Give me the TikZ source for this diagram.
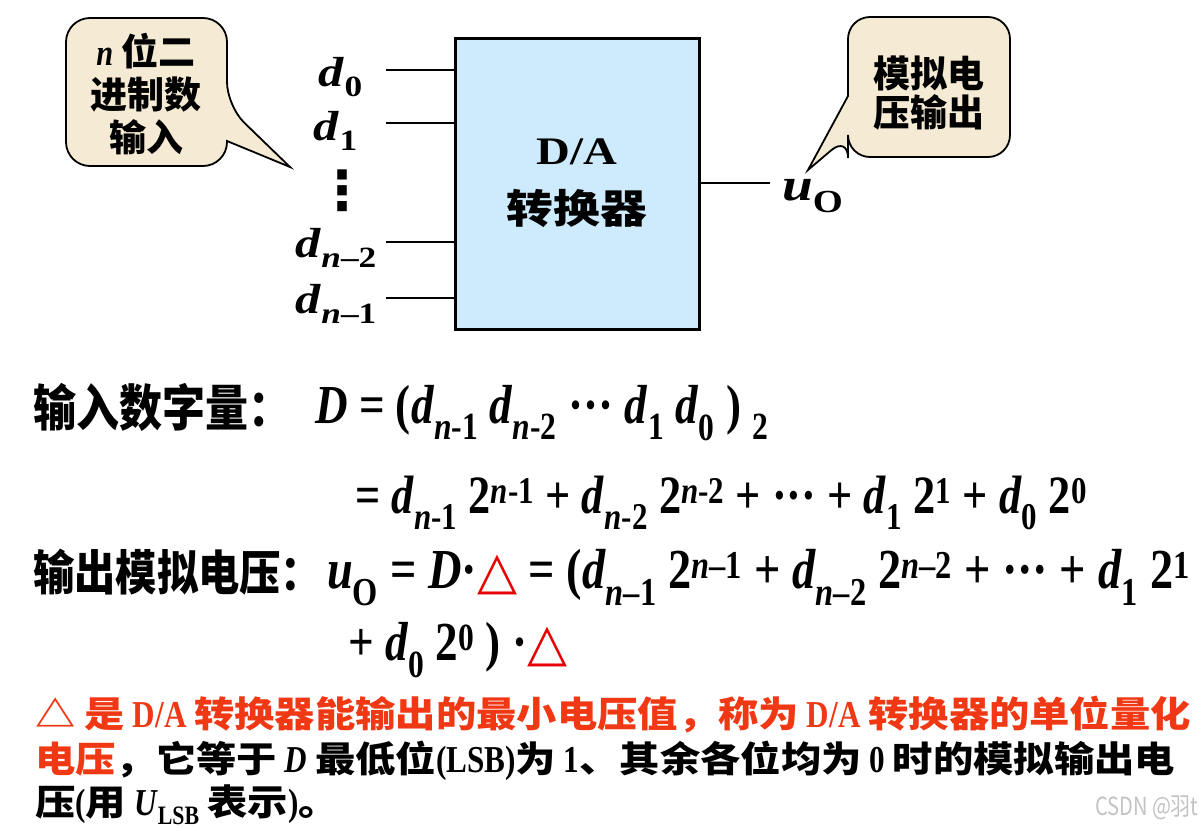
\documentclass[tikz,border=0pt]{standalone}
\usepackage{fontspec}
\setmainfont{Liberation Serif}[FakeStretch=0.82]
\newfontfamily\rmwide{Liberation Serif}[FakeStretch=1.2]
\newfontfamily\zhfont{Noto Sans CJK SC}[FakeStretch=0.86]
\newfontfamily\zhlow{Noto Sans CJK SC}[FakeStretch=1.12]
\newfontfamily\zhwide{Noto Sans CJK SC}[FakeStretch=1.17]
\newfontfamily\zhbub{Noto Sans CJK SC}
\newfontfamily\symfont{DejaVu Sans}
\newfontfamily\wmfont{Noto Sans CJK SC}[FakeStretch=0.8]

\definecolor{boxblue}{RGB}{205,235,252}
\definecolor{bubblefill}{RGB}{245,235,212}
\definecolor{textred}{RGB}{240,56,20}
\definecolor{trired}{RGB}{230,0,0}
\definecolor{wmgray}{RGB}{195,195,195}

\newcommand\fs[1]{\fontsize{#1}{#1}\selectfont}
\newcommand\ivar[1]{\textit{#1}}
\newcommand\lsub[1]{\textsubscript{#1}}
\newcommand\lsup[1]{\textsuperscript{#1}}
\newcommand\redtri{{\symfont\fs{52}\color{trired}△}}
\newcommand\zl[1]{{\zhlow\fs{36}#1}}

\begin{document}
\begin{tikzpicture}[x=1pt,y=-1pt,
    every node/.style={inner sep=0pt},
    txt/.style={anchor=base west},
    lab/.style={anchor=base east, font=\bfseries\rmwide\fs{42}},
    bubble/.style={draw, line width=1.8pt, fill=bubblefill},
    wire/.style={line width=2.4pt}]
    \useasboundingbox (0,0) rectangle (1201,830);

    % speech bubbles
    \draw[bubble] (66,100) [rounded corners=24] -- (66,18) -- (227,18) -- (227,106)
        [sharp corners] -- (290,167) -- (227,141) [rounded corners=24] -- (227,166) -- (66,166) -- cycle;
    \draw[bubble] (1010,90) [rounded corners=22] -- (1010,157) -- (848,157) -- (848,136)
        [sharp corners] -- (808,170) -- (848,96) [rounded corners=22] -- (848,17) -- (1010,17) -- cycle;
    \node[font=\bfseries\zhbub\fontsize{37}{43}\selectfont, align=center] (inlab) at (146,94)
        {{\rmfamily\itshape n} 位二\\进制数\\输入};
    \node[font=\bfseries\zhbub\fontsize{37}{39}\selectfont, align=center] (outlab) at (929,93)
        {模拟电\\压输出};

    % converter block
    \node[draw, line width=3pt, fill=boxblue, minimum width=244, minimum height=291,
        align=center, font=\bfseries\fontsize{40}{59}\selectfont] (dac) at (577,183.5)
        {{\rmwide\fontsize{39}{59}\selectfont D/A}\\{\zhwide 转换器}};

    % inputs
    \node[lab] (d0) at (363,86) {\ivar{d}\lsub{0}};
    \node[lab] (d1) at (358,140) {\ivar{d}\lsub{1}};
    \node[font=\symfont\bfseries\fs{54}] (vd) at (342,191) {⋮};
    \node[lab] (dn2) at (377,257) {\ivar{d}\lsub{\ivar{n}–2}};
    \node[lab] (dn1) at (377,313) {\ivar{d}\lsub{\ivar{n}–1}};
    \foreach \y/\nm in {70/i0,123/i1,242/i2,298/i3} {
        \coordinate (\nm) at (386,\y);
        \draw[wire] (\nm) -- (\nm -| dac.west);
    }

    % output
    \coordinate (uoend) at (770,183);
    \draw[wire] (dac.east |- uoend) -- (uoend);
    \node[txt, font=\bfseries\rmwide\fs{46}] (uo) at (782,200) {\ivar{u}\lsub{O}};

    % formulas
    \node[txt, font=\bfseries\zhfont\fs{50}] (lab1) at (33,426) {输入数字量：};
    \node[txt, font=\bfseries\fs{55}] (eq1) at (315,423)
        {\ivar{D} = (\ivar{d}\lsub{\ivar{n}-1} \ivar{d}\lsub{\ivar{n}-2} ··· \ivar{d}\lsub{1} \ivar{d}\lsub{0} ) \lsub{2}};
    \node[txt, font=\bfseries\fs{54}] (eq2) at (355,513)
        {= \ivar{d}\lsub{\ivar{n}-1} 2\lsup{\ivar{n}-1} + \ivar{d}\lsub{\ivar{n}-2} 2\lsup{\ivar{n}-2} + ··· + \ivar{d}\lsub{1} 2\lsup{1} + \ivar{d}\lsub{0} 2\lsup{0}};
    \node[txt, font=\bfseries\zhfont\fs{48}] (lab3) at (33,590) {输出模拟电压：};
    \node[txt, font=\bfseries\fs{56.5}] (eq3) at (327,588)
        {\ivar{u}\lsub{O} = \ivar{D}·\redtri{} = (\ivar{d}\lsub{\ivar{n}–1} 2\lsup{\ivar{n}–1} + \ivar{d}\lsub{\ivar{n}–2} 2\lsup{\ivar{n}–2} + ··· + \ivar{d}\lsub{1} 2\lsup{1}};
    \node[txt, font=\bfseries\fs{55}] (eq4) at (348,660)
        {+ \ivar{d}\lsub{0} 2\lsup{0} ) ·\redtri};

    % note
    \node[txt, font=\bfseries\fs{38}, text=textred] (noteA) at (35,727)
        {\zl{△ 是} D/A \zl{转换器能输出的最小电压值，称为} D/A \zl{转换器的单位量化}};
    \node[txt, font=\bfseries\fs{38}] (noteB) at (35,772)
        {{\color{textred}\zl{电压}}\zl{，它等于} \ivar{D} \zl{最低位}(LSB)\zl{为} 1\zl{、其余各位均为} 0 \zl{时的模拟输出电}};
    \node[txt, font=\bfseries\fs{38}] (noteC) at (35,815)
        {\zl{压}(\zl{用} \ivar{U}\lsub{LSB} \zl{表示})\zl{。}};
    \node[txt, font=\wmfont\fs{25}, text=wmgray] (wm) at (1095,815) {CSDN @羽t};
\end{tikzpicture}
\end{document}
